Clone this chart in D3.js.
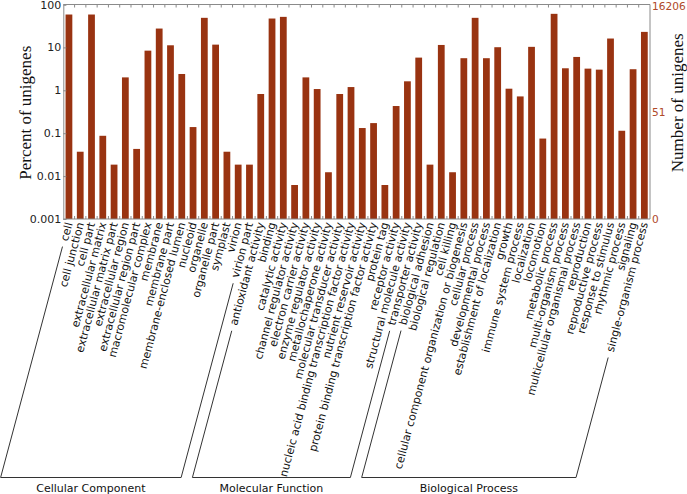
<!DOCTYPE html>
<html><head><meta charset="utf-8">
<script src="https://cdn.jsdelivr.net/npm/d3@7"></script>
<style>body{margin:0;background:#fff}svg{display:block}</style>
</head><body>
<script>
const categories = ["cell","cell junction","cell part","extracellular matrix","extracellular matrix part","extracellular region","extracellular region part","macromolecular complex","membrane","membrane part","membrane-enclosed lumen","nucleoid","organelle","organelle part","symplast","virion","virion part",
"antioxidant activity","binding","catalytic activity","channel regulator activity","electron carrier activity","enzyme regulator activity","metallochaperone activity","molecular transducer activity","nucleic acid binding transcription factor activity","nutrient reservoir activity","protein binding transcription factor activity","protein tag","receptor activity","structural molecule activity","transporter activity",
"biological adhesion","biological regulation","cell killing","cellular component organization or biogenesis","cellular process","developmental process","establishment of localization","growth","immune system process","localization","locomotion","metabolic process","multi-organism process","multicellular organismal process","reproduction","reproductive process","response to stimulus","rhythmic process","signaling","single-organism process"];
const percents = [58.4,0.037,58.4,0.087,0.0185,2.0,0.043,8.4,27.5,11.2,2.4,0.139,48.9,11.6,0.037,0.0185,0.0185,
0.82,47.1,51.5,0.0062,2.0,1.07,0.0123,0.82,1.19,0.132,0.172,0.0062,0.43,1.62,5.78,
0.0185,11.4,0.0123,5.6,48.9,5.6,10.1,1.09,0.72,10.3,0.075,60.6,3.26,5.99,3.2,3.03,16.1,0.114,3.1,23.0];
const groupNames = ["Cellular Component","Molecular Function","Biological Process"];
const groupSizes = [17,15,20];
const leftTicks = [0.001,0.01,0.1,1,10,100];
const leftTickLabels = ["0.001","0.01","0.1","1","10","100"];
const totalUnigenes = 16206;
const rightTicks = [0,51,16206];

const W=687,H=494;
const L=63.3,R=650,T=4.5,B=219;
const svg=d3.select("body").append("svg").attr("width",W).attr("height",H);
const x=d3.scaleBand().domain(categories).range([L,R]).paddingInner(0.4).paddingOuter(0.2);
const y=d3.scaleLog().domain([0.001,100]).range([B,T]);
const barColor="#993311", axisColor="#8a8a8a";

// bars
svg.append("g").selectAll("rect").data(categories).join("rect")
  .attr("x",d=>x(d)).attr("width",x.bandwidth())
  .attr("y",(d,i)=>y(percents[i])).attr("height",(d,i)=>B-y(percents[i]))
  .attr("fill",barColor);

// frame & ticks
const step=x.step();
const bounds=d3.range(1,categories.length).map(i=>L+step*i);
const fr=svg.append("g").attr("stroke",axisColor).attr("stroke-width",1).attr("fill","none");
fr.append("line").attr("x1",L).attr("x2",R).attr("y1",T).attr("y2",T);
fr.append("line").attr("x1",L).attr("x2",R).attr("y1",B).attr("y2",B);
fr.selectAll(".tt").data(bounds).join("line").attr("x1",d=>d).attr("x2",d=>d).attr("y1",T).attr("y2",T+3);
fr.selectAll(".bt").data(bounds).join("line").attr("x1",d=>d).attr("x2",d=>d).attr("y1",B).attr("y2",B-3);

// left axis
const la=svg.append("g").attr("transform",`translate(${L},0)`)
  .call(d3.axisLeft(y).tickValues(leftTicks).tickFormat((d,i)=>leftTickLabels[i]).tickSize(-3).tickPadding(2));
la.select(".domain").attr("stroke",axisColor);
la.selectAll(".tick line").attr("stroke",axisColor);
la.selectAll("text").attr("font-family","DejaVu Sans").attr("font-size",11).attr("fill","#222");

// right axis
const yr=v=>v===0?y(0.001):y(v/totalUnigenes*100);
const ra=svg.append("g").attr("transform",`translate(${R},0)`);
ra.append("line").attr("y1",T).attr("y2",B).attr("stroke",axisColor);
ra.selectAll("text").data(rightTicks).join("text")
  .attr("x",2).attr("y",d=>Math.max(yr(d),6)).attr("dy","0.35em")
  .attr("font-family","DejaVu Sans").attr("font-size",10.6).attr("fill","#b04a2a").text(d=>d);

// axis titles
svg.append("text").attr("transform",`translate(25,${(T+B)/2+1}) rotate(-90)`).attr("text-anchor","middle").attr("dy","0.35em")
  .attr("font-family","Liberation Serif").attr("font-size",17).attr("fill","#111").text("Percent of unigenes");
svg.append("text").attr("transform",`translate(677,${(T+B)/2-9}) rotate(-90)`).attr("text-anchor","middle").attr("dy","0.35em")
  .attr("font-family","Liberation Serif").attr("font-size",17).attr("fill","#111").text("Number of unigenes");

// category labels
const ang=-75, rad=ang*Math.PI/180;
const ux=-Math.cos(rad), uy=-Math.sin(rad);
const anchorY=B+3.5;
const labs=svg.append("g").selectAll("text").data(categories).join("text")
  .attr("transform",d=>`translate(${x(d)+x.bandwidth()/2},${anchorY}) rotate(${ang})`)
  .attr("text-anchor","end").attr("dy","0.35em")
  .attr("font-family","DejaVu Sans").attr("font-size",11).attr("fill","#111").text(d=>d);
const lens=[];
labs.each(function(){lens.push(this.getComputedTextLength());});

// group brackets
const bottomY=477.5;
const bg=svg.append("g").attr("stroke","#333").attr("stroke-width",1).attr("fill","none");
let start=0;
groupNames.forEach((g,gi)=>{
  const end=start+groupSizes[gi]-1;
  const pts=[start,end].map(i=>{
    const cx=x(categories[i])+x.bandwidth()/2;
    const dist=lens[i]+6;
    const x0=cx+ux*dist, y0=anchorY+uy*dist;
    const xb=cx+ux*(bottomY-anchorY)/uy;
    return {x0,y0,xb};
  });
  bg.append("path").attr("d",`M${pts[0].x0},${pts[0].y0}L${pts[0].xb},${bottomY}L${pts[1].xb},${bottomY}L${pts[1].x0},${pts[1].y0}`);
  svg.append("text").attr("x",(pts[0].xb+pts[1].xb)/2).attr("y",491.5).attr("text-anchor","middle")
    .attr("font-family","DejaVu Sans").attr("font-size",11).attr("fill","#111").text(g);
  start=end+1;
});
</script>
</body></html>
